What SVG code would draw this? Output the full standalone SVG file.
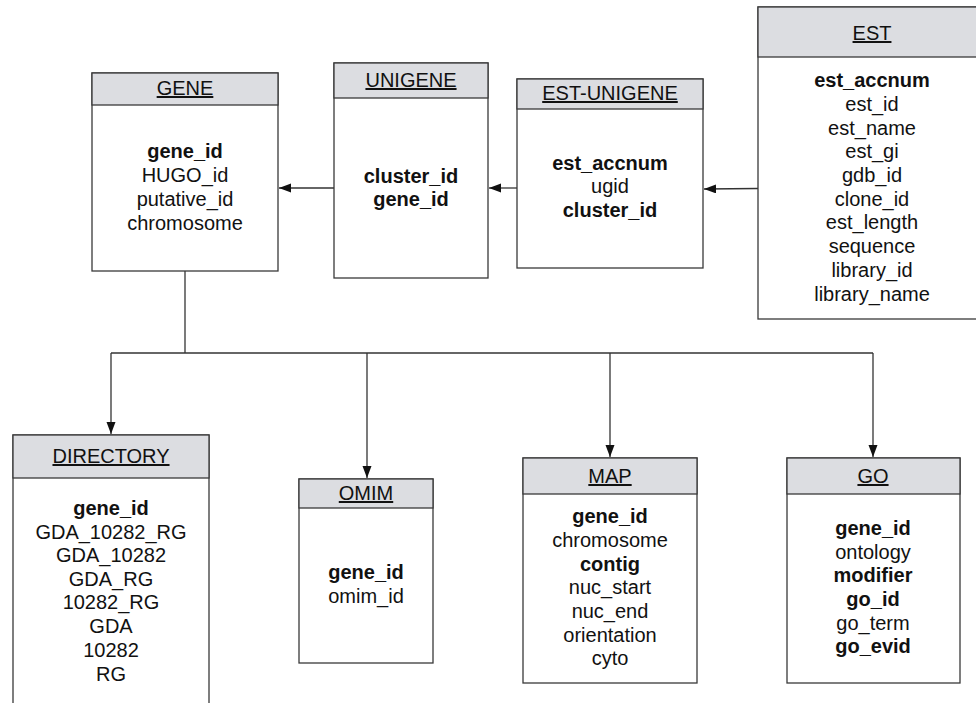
<svg xmlns="http://www.w3.org/2000/svg" width="976" height="703" viewBox="0 0 976 703">
<style>
.box{fill:#ffffff;stroke:#3a3a3a;stroke-width:1.3}
.hdr{fill:#dcdde1;stroke:#3a3a3a;stroke-width:1.3}
.title{font-family:"Liberation Sans",Arial,sans-serif;font-size:20px;text-anchor:middle;text-decoration:underline;fill:#111}
.f{font-family:"Liberation Sans",Arial,sans-serif;font-size:20px;text-anchor:middle;fill:#111}
.b{font-weight:bold}
.con{fill:none;stroke:#333;stroke-width:1.3}
</style>
<defs>
<marker id="arr" markerUnits="userSpaceOnUse" markerWidth="13" markerHeight="10" refX="12" refY="4.5" orient="auto">
<path d="M0,0 L12,4.5 L0,9 z" fill="#111"/>
</marker>
</defs>
<rect width="976" height="703" fill="#ffffff"/>

<g id="connectors">
<line class="con" x1="334" y1="188" x2="279" y2="188" marker-end="url(#arr)"/>
<line class="con" x1="517" y1="188" x2="489" y2="188" marker-end="url(#arr)"/>
<line class="con" x1="758" y1="188.5" x2="704" y2="189" marker-end="url(#arr)"/>
<polyline class="con" points="185,271 185,353"/>
<polyline class="con" points="111,353 873,353"/>
<line class="con" x1="111" y1="353" x2="111" y2="434" marker-end="url(#arr)"/>
<line class="con" x1="367" y1="353" x2="367" y2="478" marker-end="url(#arr)"/>
<line class="con" x1="610" y1="353" x2="610" y2="457" marker-end="url(#arr)"/>
<line class="con" x1="873" y1="353" x2="873" y2="457" marker-end="url(#arr)"/>
</g>

<g id="GENE">
<rect class="box" x="92" y="73" width="186" height="198"/>
<rect class="hdr" x="92" y="73" width="186" height="32"/>
<text class="title" x="185" y="95">GENE</text>
<text class="f b" x="185" y="158">gene_id</text>
<text class="f" x="185" y="182">HUGO_id</text>
<text class="f" x="185" y="206">putative_id</text>
<text class="f" x="185" y="230">chromosome</text>
</g>

<g id="UNIGENE">
<rect class="box" x="334" y="63" width="154" height="215"/>
<rect class="hdr" x="334" y="63" width="154" height="35"/>
<text class="title" x="411" y="87">UNIGENE</text>
<text class="f b" x="411" y="183">cluster_id</text>
<text class="f b" x="411" y="206">gene_id</text>
</g>

<g id="EST-UNIGENE">
<rect class="box" x="517" y="79" width="186" height="189"/>
<rect class="hdr" x="517" y="79" width="186" height="30"/>
<text class="title" x="610" y="100">EST-UNIGENE</text>
<text class="f b" x="610" y="170">est_accnum</text>
<text class="f" x="610" y="193">ugid</text>
<text class="f b" x="610" y="217">cluster_id</text>
</g>

<g id="EST">
<rect class="box" x="758" y="7" width="230" height="312"/>
<rect class="hdr" x="758" y="7" width="230" height="50"/>
<text class="title" x="872" y="40">EST</text>
<text class="f b" x="872" y="87">est_accnum</text>
<text class="f" x="872" y="111">est_id</text>
<text class="f" x="872" y="135">est_name</text>
<text class="f" x="872" y="158">est_gi</text>
<text class="f" x="872" y="182">gdb_id</text>
<text class="f" x="872" y="206">clone_id</text>
<text class="f" x="872" y="229">est_length</text>
<text class="f" x="872" y="253">sequence</text>
<text class="f" x="872" y="277">library_id</text>
<text class="f" x="872" y="301">library_name</text>
</g>

<g id="DIRECTORY">
<rect class="box" x="13" y="435" width="196" height="300"/>
<rect class="hdr" x="13" y="435" width="196" height="43"/>
<text class="title" x="111" y="463">DIRECTORY</text>
<text class="f b" x="111" y="515">gene_id</text>
<text class="f" x="111" y="539">GDA_10282_RG</text>
<text class="f" x="111" y="562">GDA_10282</text>
<text class="f" x="111" y="586">GDA_RG</text>
<text class="f" x="111" y="609">10282_RG</text>
<text class="f" x="111" y="633">GDA</text>
<text class="f" x="111" y="657">10282</text>
<text class="f" x="111" y="681">RG</text>
</g>

<g id="OMIM">
<rect class="box" x="299" y="479" width="134" height="184"/>
<rect class="hdr" x="299" y="479" width="134" height="29"/>
<text class="title" x="366" y="500">OMIM</text>
<text class="f b" x="366" y="579">gene_id</text>
<text class="f" x="366" y="603">omim_id</text>
</g>

<g id="MAP">
<rect class="box" x="523" y="458" width="174" height="225"/>
<rect class="hdr" x="523" y="458" width="174" height="36"/>
<text class="title" x="610" y="483">MAP</text>
<text class="f b" x="610" y="523">gene_id</text>
<text class="f" x="610" y="547">chromosome</text>
<text class="f b" x="610" y="571">contig</text>
<text class="f" x="610" y="594">nuc_start</text>
<text class="f" x="610" y="618">nuc_end</text>
<text class="f" x="610" y="642">orientation</text>
<text class="f" x="610" y="665">cyto</text>
</g>

<g id="GO">
<rect class="box" x="787" y="458" width="173" height="225"/>
<rect class="hdr" x="787" y="458" width="173" height="36"/>
<text class="title" x="873" y="483">GO</text>
<text class="f b" x="873" y="535">gene_id</text>
<text class="f" x="873" y="559">ontology</text>
<text class="f b" x="873" y="582">modifier</text>
<text class="f b" x="873" y="606">go_id</text>
<text class="f" x="873" y="630">go_term</text>
<text class="f b" x="873" y="653">go_evid</text>
</g>
</svg>
